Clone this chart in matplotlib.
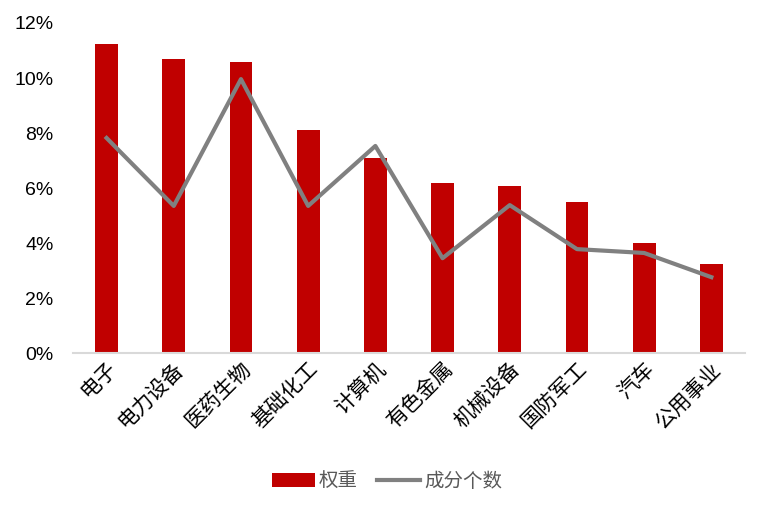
import matplotlib.pyplot as plt
from matplotlib.ticker import FuncFormatter

plt.rcParams['font.family'] = ['Liberation Sans', 'Noto Sans CJK SC', 'DejaVu Sans']

industries = ['电子', '电力设备', '医药生物', '基础化工', '计算机',
              '有色金属', '机械设备', '国防军工', '汽车', '公用事业']
weights = [11.24, 10.69, 10.58, 8.11, 7.09, 6.18, 6.07, 5.49, 4.00, 3.24]
counts = [7.82, 5.35, 9.96, 5.35, 7.53, 3.45, 5.38, 3.78, 3.64, 2.76]

fig = plt.figure(figsize=(7.68, 5.11), dpi=100)
ax = fig.add_axes([0.095, 0.309, 0.875, 0.646])

x = range(len(industries))
bars = ax.bar(x, weights, width=0.34, color='#C00000', label='权重', zorder=2)
line, = ax.plot(x, counts, color='#808080', linewidth=3, label='成分个数', zorder=3)

ax.set_xlim(-0.5, 9.5)
ax.set_ylim(0, 12)
ax.set_yticks(range(0, 13, 2))
ax.yaxis.set_major_formatter(FuncFormatter(lambda v, p: f'{v:.0f}%'))
ax.set_xticks(list(x))
ax.set_xticklabels(industries, rotation=45, ha='right', rotation_mode='anchor',
                   fontsize=15)
ax.tick_params(axis='y', labelsize=14, length=0, pad=14)
ax.tick_params(axis='x', length=0, pad=4)

for s in ['top', 'right', 'left']:
    ax.spines[s].set_visible(False)
ax.spines['bottom'].set_color('#D9D9D9')
ax.spines['bottom'].set_linewidth(1.5)

leg = fig.legend([bars, line], ['权重', '成分个数'], loc='center',
                 bbox_to_anchor=(0.504, 0.058), ncol=2, frameon=False,
                 fontsize=14, handlelength=2.2, columnspacing=1.0, handletextpad=0.2)
for t in leg.get_texts():
    t.set_color('#595959')

fig.savefig('out.png', dpi=100)
